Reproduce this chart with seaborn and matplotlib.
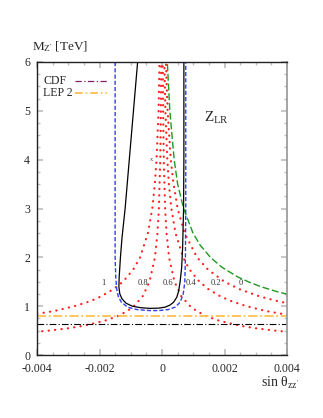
import matplotlib
matplotlib.use("Agg")
import matplotlib.pyplot as plt
from matplotlib.ticker import MultipleLocator, FuncFormatter
import seaborn as sns

# sin(theta) values in units of 1e-3, masses in TeV

# red dotted family, labels 1 .. 0.2
M_p1 = [0.8, 0.9, 1.0, 1.1, 1.2, 1.35, 1.5, 1.75, 2.0, 2.5, 3.0, 3.5, 4.0, 5.0, 6.0]
S_p1 = [-4.4, -3.45, -2.8, -2.3, -1.95, -1.55, -1.25, -0.92, -0.70, -0.45, -0.31, -0.23, -0.175, -0.11, -0.08]

M_p08 = [0.45, 0.5, 0.55, 0.6, 0.7, 0.8, 0.9, 1.0, 1.2, 1.5, 2.0, 2.5, 3.0, 4.0, 5.0, 6.0]
S_p08 = [-4.45, -3.6, -2.97, -2.5, -1.84, -1.4, -1.11, -0.9, -0.62, -0.4, -0.225, -0.145, -0.1, -0.056, -0.036, -0.025]

M_p06 = [0.45, 0.5, 0.55, 0.6, 0.7, 0.8, 0.9, 1.0, 1.2, 1.5, 2.0, 2.5, 3.0, 4.0, 5.0, 6.0]
S_p06 = [4.45, 3.6, 2.97, 2.5, 1.84, 1.4, 1.11, 0.9, 0.62, 0.4, 0.225, 0.145, 0.1, 0.056, 0.036, 0.025]

M_p04 = [0.8, 0.9, 1.0, 1.1, 1.2, 1.35, 1.5, 1.75, 2.0, 2.5, 3.0, 3.5, 4.0, 5.0, 6.0]
S_p04 = [4.22, 3.33, 2.7, 2.23, 1.87, 1.48, 1.2, 0.88, 0.675, 0.43, 0.3, 0.22, 0.17, 0.108, 0.075]

M_p02 = [1.05, 1.1, 1.2, 1.35, 1.5, 1.75, 2.0, 2.5, 3.0, 3.5, 4.0, 5.0, 6.0]
S_p02 = [4.08, 3.72, 3.12, 2.47, 2.0, 1.47, 1.12, 0.72, 0.5, 0.37, 0.28, 0.18, 0.125]

# green dashed (label 0)
M_p0 = [1.24, 1.3, 1.4, 1.5, 1.6, 1.8, 2.0, 2.25, 2.5, 3.0, 3.5, 4.0, 5.0, 6.0]
S_p0 = [4.03, 3.67, 3.16, 2.76, 2.42, 1.91, 1.55, 1.22, 0.99, 0.69, 0.5, 0.39, 0.25, 0.17]

# black solid contour
S_black = [-0.78, -0.98, -1.18, -1.28, -1.33, -1.37, -1.38, -1.35, -1.28, -1.15, -0.95, -0.7,
           -0.4, -0.1, 0.1, 0.25, 0.37, 0.47, 0.53, 0.58, 0.63, 0.66, 0.69, 0.70, 0.70]
M_black = [6.0, 4.5, 3.0, 2.4, 2.0, 1.6, 1.4, 1.25, 1.15, 1.06, 1.0, 0.97,
           0.955, 0.96, 0.98, 1.02, 1.08, 1.18, 1.3, 1.5, 1.8, 2.2, 3.0, 4.0, 6.0]

# blue dashed contour
S_blue = [-1.5, -1.5, -1.48, -1.45, -1.4, -1.3, -1.1, -0.8, -0.4, -0.1, 0.2, 0.42,
          0.58, 0.68, 0.73, 0.75, 0.76, 0.76]
M_blue = [6.0, 2.0, 1.6, 1.35, 1.2, 1.08, 0.98, 0.93, 0.91, 0.91, 0.93, 0.98,
          1.08, 1.25, 1.5, 2.0, 3.0, 6.0]

M_CDF = 0.635
M_LEP2 = 0.80

curve_labels = ["1", "0.8", "0.6", "0.4", "0.2", "0"]
label_pos = [-1.89, -0.61, 0.19, 0.93, 1.73, 2.53]
label_mass = 1.47

legend_names = ["CDF", "LEP 2"]
legend_colors = ["#802060", "#ffb030"]

sns.set_theme(style="ticks")
plt.rcParams['font.family'] = ['Liberation Serif', 'DejaVu Serif']
plt.rcParams['mathtext.fontset'] = 'custom'
plt.rcParams['mathtext.rm'] = 'Liberation Serif'
plt.rcParams['mathtext.it'] = 'Liberation Serif:italic'

fig = plt.figure(figsize=(3.23, 4.18), dpi=100)
ax = fig.add_axes([37 / 323, 63 / 418, 250 / 323, 293 / 418])

k = 1e-3
red = dict(color="#ff2020", lw=1.6, linestyle=(0, (0.1, 2.8)), dash_capstyle="round")
for mm, ss in [(M_p1, S_p1), (M_p08, S_p08), (M_p06, S_p06), (M_p04, S_p04), (M_p02, S_p02)]:
    sns.lineplot(x=[v * k for v in ss], y=mm, sort=False, estimator=None, ax=ax, **red)

sns.lineplot(x=[v * k for v in S_p0], y=M_p0, sort=False, estimator=None, ax=ax,
             color="#1f9a1f", lw=1.0, linestyle=(0, (5, 2)))
sns.lineplot(x=[v * k for v in S_blue], y=M_blue, sort=False, estimator=None, ax=ax,
             color="#3040f0", lw=1.0, linestyle=(0, (3, 1.5)))
sns.lineplot(x=[v * k for v in S_black], y=M_black, sort=False, estimator=None, ax=ax,
             color="black", lw=0.9)

ax.axhline(M_LEP2, color="#ffc050", lw=1.3, linestyle=(0, (5, 1.5, 1, 1.5)))
ax.axhline(M_CDF, color="black", lw=0.8, linestyle=(0, (6, 2, 1, 2)))

for lab, xp in zip(curve_labels, label_pos):
    ax.text(xp * k, label_mass, lab, fontsize=6, ha="center", va="center", color="#333333")

ax.text(0.00135, 4.85, r"Z$_{\mathrm{LR}}$", fontsize=11, ha="left", va="center")
ax.text(-0.00035, 4.0, "x", fontsize=4.5, ha="center", va="center", color="#444444")

# hand made legend: text first, sample line after
for i, (name, col) in enumerate(zip(legend_names, legend_colors)):
    yy = 0.936 - i * 0.043
    ax.text(0.024, yy, name, transform=ax.transAxes, fontsize=8.5, ha="left", va="center")
    ax.plot([0.152, 0.28], [yy, yy], transform=ax.transAxes, color=col,
            lw=0.9 if i == 0 else 1.1, linestyle=(0, (5, 2, 1, 2)))

ax.set_xlim(-0.004, 0.004)
ax.set_ylim(0, 6)
ax.xaxis.set_major_locator(MultipleLocator(0.002))
ax.xaxis.set_minor_locator(MultipleLocator(0.0005))
ax.yaxis.set_major_locator(MultipleLocator(1))
ax.yaxis.set_minor_locator(MultipleLocator(0.25))
ax.xaxis.set_major_formatter(FuncFormatter(lambda v, _: "0" if abs(v) < 1e-9 else f"{v:g}"))
ax.set_xlabel("")
ax.set_ylabel("")
ax.tick_params(which="both", direction="in", top=True, right=True, color="#c0c0c0",
               labelsize=8.5)
ax.tick_params(axis="x", pad=6)
ax.tick_params(axis="y", pad=5)
ax.tick_params(which="major", length=4)
ax.tick_params(which="minor", length=2.5)
for side in ["left", "bottom", "top"]:
    ax.spines[side].set_color("#222222")
    ax.spines[side].set_linewidth(1.0)
ax.spines["right"].set_color("#999999")

fig.text(32 / 323, 1 - 47 / 418, r"M$_{\mathrm{Z'}}$ [TeV]", fontsize=9.5, ha="left", va="center")
fig.text(261 / 323, 1 - 383 / 418, r"sin θ$_{\mathrm{zz'}}$", fontsize=10, ha="left", va="center")

fig.savefig("out.png", dpi=100)
